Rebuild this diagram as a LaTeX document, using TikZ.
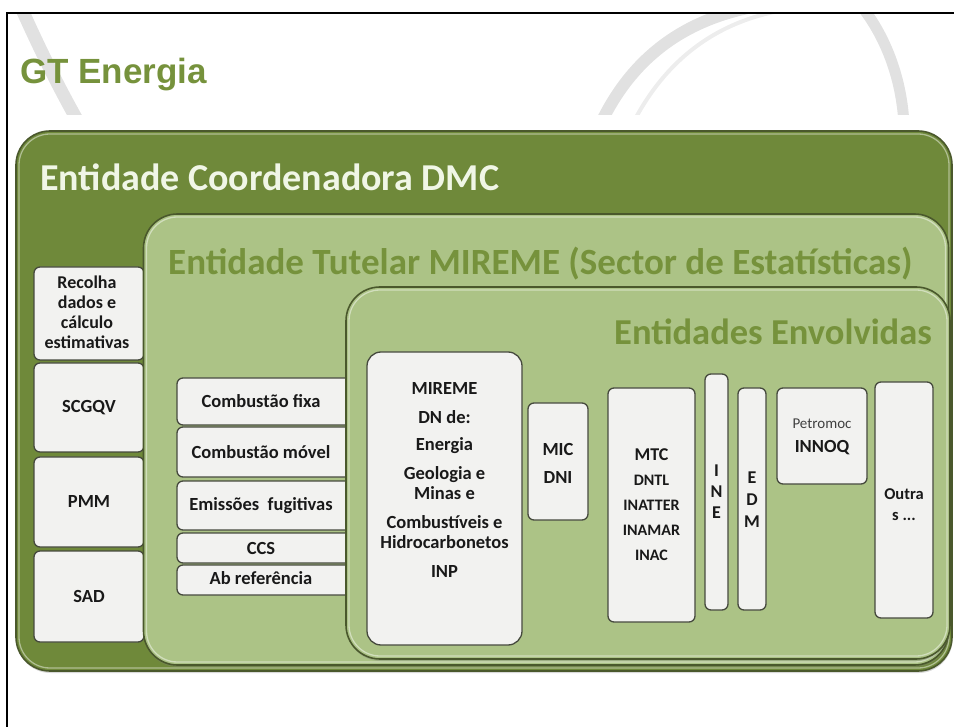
\documentclass[tikz,border=0pt]{standalone}
\usepackage{fontspec}
\usetikzlibrary{shadows}
\setmainfont{Carlito}
\newfontfamily\arialfont{Liberation Sans}
\definecolor{dkgreen}{RGB}{111,137,58}
\definecolor{ltgreen}{RGB}{172,195,134}
\definecolor{ttlgreen}{RGB}{118,146,60}
\definecolor{boxfill}{RGB}{242,242,240}
\definecolor{boxedge}{RGB}{70,74,62}
\definecolor{titlewhite}{RGB}{240,246,230}
\definecolor{bigedge}{RGB}{74,88,44}
\definecolor{swoosh}{RGB}{225,225,225}
\tikzset{
  bigbox/.style={draw=bigedge, line width=1.6pt, rounded corners=34pt, inner sep=0pt, outer sep=0pt,
     drop shadow={shadow xshift=0.5pt, shadow yshift=-2pt, opacity=0.3}},
  hilite/.style={draw=white, opacity=0.45, line width=1.3pt, rounded corners=31pt, inner sep=0pt, outer sep=0pt},
  sbox/.style={draw=boxedge, fill=boxfill, line width=1.3pt, rounded corners=6pt, inner sep=0pt, outer sep=0pt},
  btxt/.style={font=\bfseries\fontsize{18.5}{20}\selectfont, text=black!90, align=center, inner sep=0pt},
  ttl/.style={font=\bfseries\fontsize{37}{42}\selectfont, text=ttlgreen, inner sep=0pt}
}
\begin{document}
\begin{tikzpicture}[x=1pt,y=-1pt]
\useasboundingbox (0,0) rectangle (954,727);
% background swooshes
\begin{scope}
\clip (8,15) rectangle (954,115);
\draw[swoosh, line width=13pt] (20,5) .. controls (40,50) and (60,90) .. (80,125);
\draw[swoosh, line width=12pt] (600,125) .. controls (640,40) and (710,8) .. (790,2);
\draw[swoosh!60, line width=4pt] (632,125) .. controls (670,50) and (730,15) .. (800,8);
\draw[swoosh, line width=11pt] (858,2) .. controls (886,35) and (902,80) .. (904,125);
\end{scope}
% frame
\draw[line width=2pt] (954,13) -- (7,13) -- (7,727);
\node[font=\arialfont\bfseries\fontsize{35}{40}\selectfont, text=ttlgreen, anchor=base west, inner sep=0pt] (gt) at (20,84) {GT Energia};

% outer box
\node[bigbox, fill=dkgreen, minimum width=936pt, minimum height=540pt] (dmc) at (484,401) {};
\node[hilite, minimum width=930pt, minimum height=534pt] (dmch) at (dmc.center) {};
\node[font=\bfseries\fontsize{38}{42}\selectfont, text=titlewhite, anchor=base west, inner sep=0pt] (dmct) at (40,191) {Entidade Coordenadora DMC};

% left column
\node[sbox, minimum width=110pt, minimum height=93pt] (rec) at (89,313.5) {};
\node[btxt, font=\bfseries\fontsize{18}{20}\selectfont] (rect) at (87,312) {Recolha\\dados e\\cálculo\\estimativas};
\node[sbox, minimum width=110pt, minimum height=89pt] (scg) at (89,407.5) {};
\node[btxt] (scgt) at (scg.center) {SCGQV};
\node[sbox, minimum width=110pt, minimum height=90pt] (pmm) at (89,502) {};
\node[btxt] (pmmt) at (pmm.center) {PMM};
\node[sbox, minimum width=110pt, minimum height=91pt] (sad) at (89,596.5) {};
\node[btxt] (sadt) at (sad.center) {SAD};

% middle box
\node[bigbox, fill=ltgreen, minimum width=805pt, minimum height=451pt] (mir) at (546,439.5) {};
\node[hilite, minimum width=799pt, minimum height=445pt] (mirh) at (mir.center) {};
\node[ttl, anchor=base west] (mirt) at (168,275) {Entidade Tutelar MIREME (Sector de Estatísticas)};

\node[sbox, minimum width=175pt, minimum height=47pt] (fixa) at (264.5,401.5) {};
\node[btxt] (fixat) at (261,401.5) {Combustão fixa};
\node[sbox, minimum width=175pt, minimum height=50pt] (movel) at (264.5,452) {};
\node[btxt] (movelt) at (261,452) {Combustão móvel};
\node[sbox, minimum width=175pt, minimum height=49pt] (fug) at (264.5,505.5) {};
\node[btxt] (fugt) at (261,505.5) {Emissões\ \ fugitivas};
\node[sbox, minimum width=175pt, minimum height=30pt] (ccs) at (264.5,548) {};
\node[btxt] (ccst) at (261,548) {CCS};
\node[sbox, minimum width=175pt, minimum height=30pt] (ab) at (264.5,580) {};
\node[btxt] (abt) at (261,578) {Ab referência};

% inner box
\node[bigbox, fill=ltgreen, minimum width=604pt, minimum height=372pt] (env) at (648,473) {};
\node[hilite, minimum width=598pt, minimum height=366pt] (envh) at (env.center) {};
\node[ttl, font=\bfseries\fontsize{36.5}{42}\selectfont, anchor=base east] (envt) at (932,345) {Entidades Envolvidas};

\node[sbox, rounded corners=14pt, minimum width=155pt, minimum height=293pt] (mre) at (444.5,498.5) {};
\node[btxt] (mret) at (444.5,480) {MIREME\\[9pt]DN de:\\[7pt]Energia\\[9pt]Geologia e\\Minas e\\[9pt]Combustíveis e\\Hidrocarbonetos\\[9pt]INP};

\node[sbox, minimum width=60pt, minimum height=117pt] (mic) at (558,461.5) {};
\node[btxt] (mict) at (558,463) {MIC\\[8pt]DNI};

\node[sbox, minimum width=87pt, minimum height=234pt] (mtc) at (651.5,505) {};
\node[btxt, font=\bfseries\fontsize{16}{25}\selectfont] (mtct) at (651.5,505) {{\fontsize{18}{25}\selectfont MTC}\\DNTL\\INATTER\\INAMAR\\INAC};

\node[sbox, minimum width=23pt, minimum height=236pt] (ine) at (716.5,492) {};
\node[btxt, font=\bfseries\fontsize{18}{21}\selectfont] (inet) at (716.5,492) {I\\N\\E};

\node[sbox, minimum width=28pt, minimum height=222pt] (edm) at (752,499) {};
\node[btxt, font=\bfseries\fontsize{18}{22}\selectfont] (edmt) at (752,500) {E\\D\\M};

\node[sbox, minimum width=90pt, minimum height=96pt] (pet) at (822,436) {};
\node[btxt, font=\fontsize{15}{24}\selectfont, text=black!75] (pett) at (822,437) {Petromoc\\{\bfseries\color{black!90}\fontsize{18.5}{24}\selectfont INNOQ}};

\node[sbox, minimum width=58pt, minimum height=236pt] (out) at (904,500) {};
\node[btxt, font=\bfseries\fontsize{16.5}{21}\selectfont] (outt) at (904,505) {Outra\\s ...};
\end{tikzpicture}
\end{document}
